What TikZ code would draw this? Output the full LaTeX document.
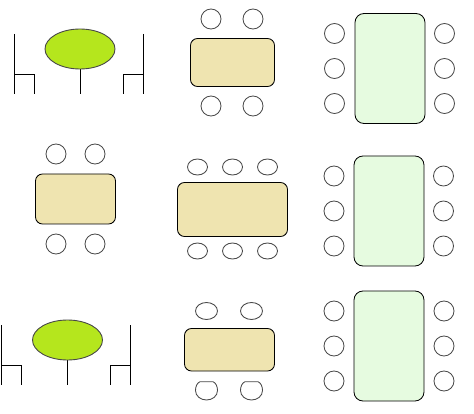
\documentclass[tikz,border=0pt]{standalone}
\definecolor{limetop}{HTML}{B5E61D}
\definecolor{tantop}{HTML}{EFE4B0}
\definecolor{mintop}{HTML}{E6FBE0}
\definecolor{seatline}{HTML}{484848}
\tikzset{
  x=1pt,y=-1pt,
  leg/.style={draw=black,line width=0.75pt,line cap=butt},
  oval/.style={draw=seatline,fill=limetop,line width=0.9pt},
  tantable/.style={draw=black,fill=tantop,line width=0.85pt,rounded corners=7pt},
  mintable/.style={draw=black,fill=mintop,line width=0.85pt,rounded corners=9pt},
  seat/.style={draw=seatline,fill=white,line width=0.85pt},
}
\begin{document}
\begin{tikzpicture}
\useasboundingbox (0,0) rectangle (474,414);
% --- round tables with side chairs
\foreach \cx/\cy/\lx/\rx in {80/49/14.5/143.5, 67.5/340/1.5/130.5}{
  \draw[leg] (\cx,\cy+20) -- (\cx,\cy+45);
  \draw[oval] (\cx,\cy) ellipse [x radius=35,y radius=20];
  \draw[leg] (\lx,\cy-15) -- (\lx,\cy+45) (\lx,\cy+25) -- (\lx+20,\cy+25) -- (\lx+20,\cy+45);
  \draw[leg] (\rx,\cy-15) -- (\rx,\cy+45) (\rx,\cy+25) -- (\rx-20,\cy+25) -- (\rx-20,\cy+45);
}
% --- tan tables
\draw[tantable] (190.5,38.5) rectangle (274.5,86.5);
\foreach \sx/\sy in {211/19,253/19,211/106,253/106}
  \draw[seat] (\sx,\sy) circle (10);
\draw[tantable] (35.5,174) rectangle (115.5,224);
\foreach \sx/\sy in {56/154,95/154,56/244,95/244}
  \draw[seat] (\sx,\sy) circle (10);
\draw[tantable] (177.5,182.5) rectangle (287.5,236.5);
\foreach \sx in {197.5,232.5,267.5}{
  \draw[seat] (\sx,167) ellipse [x radius=10,y radius=8];
  \draw[seat] (\sx,251) ellipse [x radius=10,y radius=8];
}
\draw[tantable] (184.5,328.5) rectangle (274.5,371);
\foreach \sx in {206.5,251.5}{
  \draw[seat] (\sx,311) ellipse [x radius=11,y radius=8.5];
  \draw[seat] (\sx-6.5,381.7) -- (\sx+6.5,381.7)
    .. controls (\sx+9.5,383) and (\sx+11,386.5) .. (\sx+11,390.5)
    .. controls (\sx+11,396) and (\sx+6,400) .. (\sx,400)
    .. controls (\sx-6,400) and (\sx-11,396) .. (\sx-11,390.5)
    .. controls (\sx-11,386.5) and (\sx-9.5,383) .. cycle;
}
% --- mint tables
\foreach \tl/\tt/\lx/\rx in {355/13.5/334.5/444.5, 354/156/334/443.5, 354/291/334/444}{
  \draw[mintable] (\tl,\tt) rectangle (\tl+70,\tt+110);
  \foreach \k in {20,55,90}{
    \draw[seat] (\lx,\tt+\k) circle (10);
    \draw[seat] (\rx,\tt+\k) circle (10);
  }
}
\end{tikzpicture}
\end{document}
